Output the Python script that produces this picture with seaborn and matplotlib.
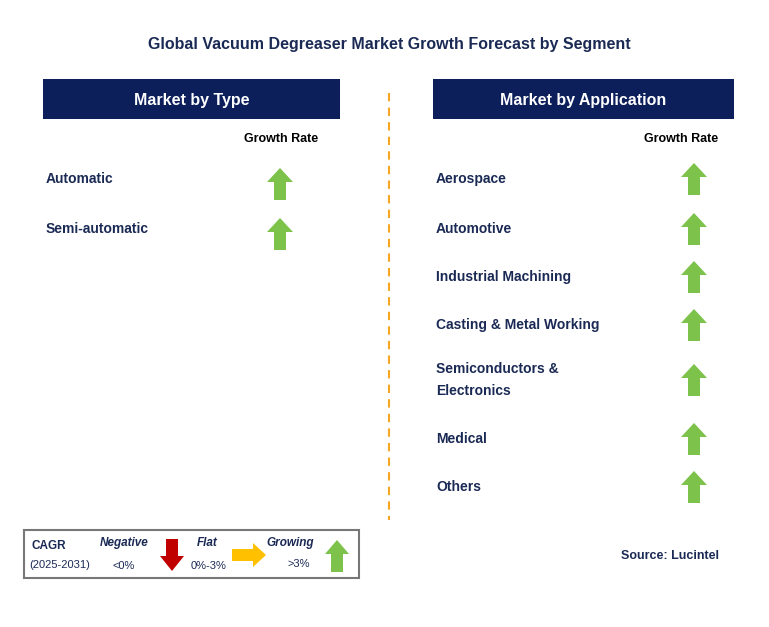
import matplotlib.pyplot as plt
import seaborn as sns
from matplotlib.patches import Rectangle, Polygon

sns.set_theme(style="white")
plt.rcParams['font.family'] = 'Liberation Sans'

title = "Global Vacuum Degreaser Market Growth Forecast by Segment"
type_labels = ["Automatic", "Semi-automatic"]
type_trend = ["up", "up"]
app_labels = ["Aerospace", "Automotive", "Industrial Machining", "Casting & Metal Working",
              "Semiconductors &\nElectronics", "Medical", "Others"]
app_trend = ["up"] * 7
type_rows = [179, 229]
app_rows = [179, 229, 277, 325, 380, 439, 487]

NAVY = "#0C1F5B"
TXT = "#1B2A55"
GREEN = "#7DC24B"

fig = plt.figure(figsize=(7.69, 6.27), dpi=100)
ax = fig.add_axes([0, 0, 1, 1])
ax.set_xlim(0, 769)
ax.set_ylim(627, 0)
ax.axis('off')


def arrow(cx, cy, kind, color, h=32, w=24, sw=12, hl=14):
    if kind == "up":
        top, bot = cy - h / 2, cy + h / 2
        pts = [(cx, top), (cx + w / 2, top + hl), (cx + sw / 2, top + hl), (cx + sw / 2, bot),
               (cx - sw / 2, bot), (cx - sw / 2, top + hl), (cx - w / 2, top + hl)]
    elif kind == "down":
        top, bot = cy - h / 2, cy + h / 2
        pts = [(cx, bot), (cx + w / 2, bot - hl), (cx + sw / 2, bot - hl), (cx + sw / 2, top),
               (cx - sw / 2, top), (cx - sw / 2, bot - hl), (cx - w / 2, bot - hl)]
    else:
        l, r = cx - h / 2, cx + h / 2
        pts = [(r, cy), (r - hl, cy - w / 2), (r - hl, cy - sw / 2), (l, cy - sw / 2),
               (l, cy + sw / 2), (r - hl, cy + sw / 2), (r - hl, cy + w / 2)]
    ax.add_patch(Polygon(pts, closed=True, color=color, lw=0))


ax.text(389, 45, title, ha='center', va='center', fontsize=11.5, fontweight='bold', color=TXT)

for x0, x1, txt in [(43, 340, "Market by Type"), (433, 734, "Market by Application")]:
    ax.add_patch(Rectangle((x0, 79), x1 - x0, 40, color=NAVY, lw=0))
    ax.text((x0 + x1) / 2, 100, txt, ha='center', va='center', fontsize=11.5,
            fontweight='bold', color='white')

ax.text(281, 139, "Growth Rate", ha='center', va='center', fontsize=9, fontweight='bold', color='black')
ax.text(681, 139, "Growth Rate", ha='center', va='center', fontsize=9, fontweight='bold', color='black')

for lab, y, t in zip(type_labels, type_rows, type_trend):
    ax.text(46, y, lab, ha='left', va='center', fontsize=10, fontweight='bold', color=TXT)
    arrow(280, y + 5, t, GREEN, w=26)

for lab, y, t in zip(app_labels, app_rows, app_trend):
    ax.text(436, y, lab, ha='left', va='center', fontsize=10, fontweight='bold', color=TXT,
            linespacing=1.7)
    arrow(694, y, t, GREEN, w=26)

ax.plot([389, 389], [93, 520], color='#F5A623', lw=1.5, ls=(0, (4, 3)))

# legend
ax.add_patch(Rectangle((24, 530), 335, 48, fill=False, ec='#777777', lw=1.5))
ax.text(31, 546, "CAGR", ha='left', va='center', fontsize=8.5, fontweight='bold', color=TXT)
ax.text(29, 565, "(2025-2031)", ha='left', va='center', fontsize=8, color=TXT)
ax.text(124, 543, "Negative", ha='center', va='center', fontsize=8.5, fontweight='bold', style='italic', color=TXT)
ax.text(124, 566, "<0%", ha='center', va='center', fontsize=8, color=TXT)
arrow(172, 555, "down", "#C00000", h=32, w=24, sw=12, hl=15)
ax.text(207, 543, "Flat", ha='center', va='center', fontsize=8.5, fontweight='bold', style='italic', color=TXT)
ax.text(209, 566, "0%-3%", ha='center', va='center', fontsize=8, color=TXT)
arrow(249, 555, "right", "#FFC000", h=34, w=24, sw=12, hl=13)
ax.text(290, 543, "Growing", ha='center', va='center', fontsize=8.5, fontweight='bold', style='italic', color=TXT)
ax.text(299, 564, ">3%", ha='center', va='center', fontsize=8, color=TXT)
arrow(337, 556, "up", GREEN, h=32, w=24, sw=12, hl=14)

ax.text(719, 556, "Source: Lucintel", ha='right', va='center', fontsize=9, fontweight='bold', color=TXT)

fig.savefig("out.png", dpi=100)
